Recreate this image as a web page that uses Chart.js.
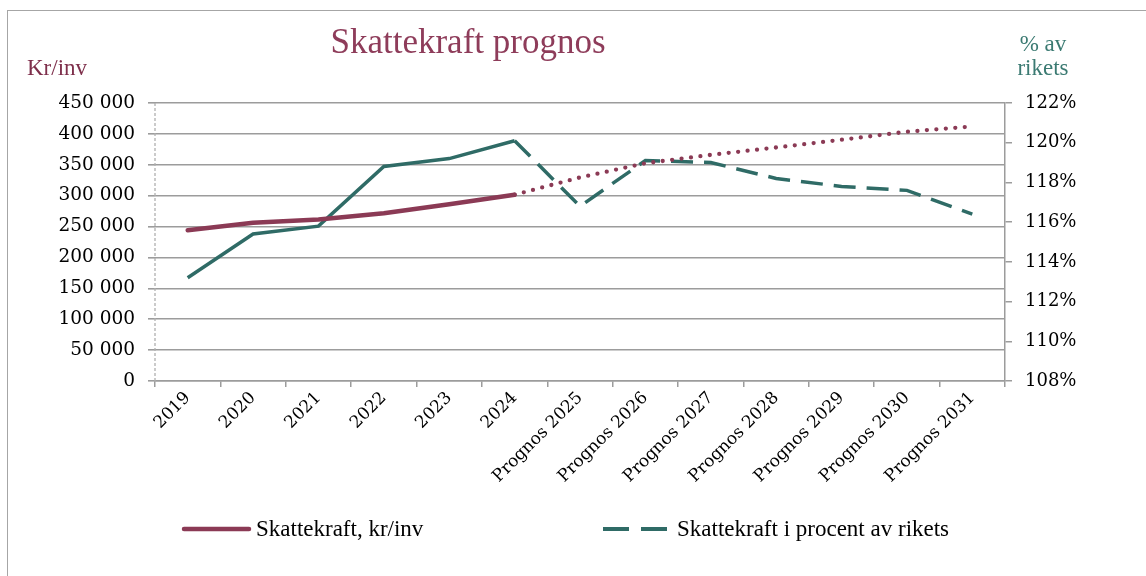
<!DOCTYPE html>
<html>
<head>
<meta charset="utf-8">
<script src="https://cdn.jsdelivr.net/npm/chart.js@4"></script>
<style>
  html, body { margin: 0; padding: 0; background: #ffffff; }
  #wrap { position: relative; width: 1146px; height: 576px; overflow: hidden; background: #fff; }
  #frame { position: absolute; left: 7px; top: 10px; width: 1160px; height: 600px; border: 1.5px solid #a6a6a6; box-sizing: border-box; }
  canvas { position: absolute; left: 0; top: 0; }
</style>
</head>
<body>
<div id="wrap">
  <div id="frame"></div>
  <canvas id="c" width="1146" height="576"></canvas>
</div>
<script>
// ---- Data ----
const categories = ["2019", "2020", "2021", "2022", "2023", "2024",
  "Prognos 2025", "Prognos 2026", "Prognos 2027", "Prognos 2028",
  "Prognos 2029", "Prognos 2030", "Prognos 2031"];
const skattekraftKrInv = [244000, 256000, 261500, 271500, 286000, 301500,
  329500, 352500, 366000, 378000, 390500, 403500, 412000];
const skattekraftProcent = [113.2, 115.4, 115.8, 118.8, 119.2, 120.1,
  116.8, 119.1, 119.0, 118.2, 117.8, 117.6, 116.4];
const leftTicks = [0, 50000, 100000, 150000, 200000, 250000, 300000, 350000, 400000, 450000];
const rightTicks = [108, 110, 112, 114, 116, 118, 120, 122];
const seriesNames = ["Skattekraft, kr/inv", "Skattekraft i procent av rikets"];
const titleText = "Skattekraft prognos";
const leftAxisTitle = "Kr/inv";
const rightAxisTitle = ["% av", "rikets"];
const lastActualIndex = 5;

// ---- Styles ----
const RED = '#8B3A55';
const GREEN = '#2F6B66';
const GRID = '#9c9c9c';
const TICKFONT = { family: '"DejaVu Serif", serif', size: 18.5 };

function fmtThousands(v) {
  return String(v).replace(/\B(?=(\d{3})+(?!\d))/g, ' ');
}

const overlay = {
  id: 'overlay',
  beforeDatasetsDraw(chart) {
    const ctx = chart.ctx;
    const a = chart.chartArea;
    ctx.save();
    ctx.strokeStyle = '#b0b0b0';
    ctx.lineWidth = 1.3;
    ctx.setLineDash([3, 2]);
    ctx.beginPath();
    ctx.moveTo(a.left, a.top);
    ctx.lineTo(a.left, a.bottom);
    ctx.stroke();
    ctx.restore();
  },
  afterDraw(chart) {
    const ctx = chart.ctx;
    ctx.save();
    // title
    ctx.font = '35px "Liberation Serif", serif';
    ctx.fillStyle = '#8E3C5A';
    ctx.textAlign = 'center';
    ctx.textBaseline = 'alphabetic';
    ctx.fillText(titleText, 468, 53);
    // left axis title
    ctx.font = '23px "Liberation Serif", serif';
    ctx.fillStyle = '#7E2F4B';
    ctx.textAlign = 'left';
    ctx.fillText(leftAxisTitle, 27, 75);
    // right axis title
    ctx.fillStyle = '#3B7A72';
    ctx.textAlign = 'center';
    ctx.fillText(rightAxisTitle[0], 1043, 51);
    ctx.fillText(rightAxisTitle[1], 1043, 75);
    // legend
    const ly = 529;
    ctx.lineCap = 'round';
    ctx.strokeStyle = RED;
    ctx.lineWidth = 4.5;
    ctx.beginPath(); ctx.moveTo(184, ly); ctx.lineTo(249, ly); ctx.stroke();
    ctx.strokeStyle = GREEN;
    ctx.lineWidth = 4;
    ctx.lineCap = 'butt';
    ctx.setLineDash([26, 12]);
    ctx.beginPath(); ctx.moveTo(603, ly); ctx.lineTo(671, ly); ctx.stroke();
    ctx.setLineDash([]);
    ctx.font = '23px "Liberation Serif", serif';
    ctx.fillStyle = '#000';
    ctx.textAlign = 'left';
    ctx.fillText(seriesNames[0], 256, 536);
    ctx.fillText(seriesNames[1], 677, 536);
    ctx.restore();
  }
};

new Chart(document.getElementById('c'), {
  type: 'line',
  data: {
    labels: categories,
    datasets: [
      {
        label: seriesNames[0],
        data: skattekraftKrInv,
        yAxisID: 'y',
        borderColor: RED,
        borderWidth: 4.5,
        borderCapStyle: 'round',
        borderJoinStyle: 'round',
        pointRadius: 0,
        tension: 0,
        segment: {
          borderDash: ctx => ctx.p0DataIndex >= lastActualIndex ? [0, 9.5] : undefined,
          borderWidth: ctx => ctx.p0DataIndex >= lastActualIndex ? 4.3 : undefined
        }
      },
      {
        label: seriesNames[1],
        data: skattekraftProcent,
        yAxisID: 'y2',
        borderColor: GREEN,
        borderWidth: 3.5,
        borderCapStyle: 'butt',
        borderJoinStyle: 'miter',
        pointRadius: 0,
        tension: 0,
        segment: {
          borderDash: ctx => ctx.p0DataIndex >= lastActualIndex ? [22, 11] : undefined
        }
      }
    ]
  },
  options: {
    responsive: false,
    animation: false,
    events: [],
    layout: { padding: { top: 103, left: 0, right: 0, bottom: 0 } },
    plugins: { legend: { display: false }, tooltip: { enabled: false }, title: { display: false } },
    scales: {
      x: {
        type: 'category',
        offset: true,
        grid: { offset: true, drawOnChartArea: false, drawTicks: true, tickLength: 6, color: GRID, lineWidth: 1.5 },
        border: { display: true, color: GRID, width: 1.5 },
        ticks: { autoSkip: false, maxRotation: 45, minRotation: 45, color: '#000',
          font: { family: '"DejaVu Serif", serif', size: 17 }, padding: 1 },
        afterFit: s => { s.height = 195; }
      },
      y: {
        position: 'left',
        min: 0, max: 450000,
        afterBuildTicks: s => { s.ticks = leftTicks.map(v => ({ value: v })); },
        ticks: { color: '#000', font: TICKFONT, padding: 13, callback: v => fmtThousands(v) },
        grid: { color: GRID, lineWidth: 1.6, drawTicks: true, tickLength: 7 },
        border: { display: false },
        afterFit: s => { s.width = 155; }
      },
      y2: {
        position: 'right',
        min: 108, max: 122,
        afterBuildTicks: s => { s.ticks = rightTicks.map(v => ({ value: v })); },
        ticks: { color: '#000', font: { family: '"DejaVu Serif", serif', size: 18 }, padding: 13, callback: v => v + '%' },
        grid: { drawOnChartArea: false, drawTicks: true, tickLength: 7, color: GRID, lineWidth: 1.5 },
        border: { display: true, color: GRID, width: 1.5 },
        afterFit: s => { s.width = 141; }
      }
    }
  },
  plugins: [overlay]
});
</script>
</body>
</html>
